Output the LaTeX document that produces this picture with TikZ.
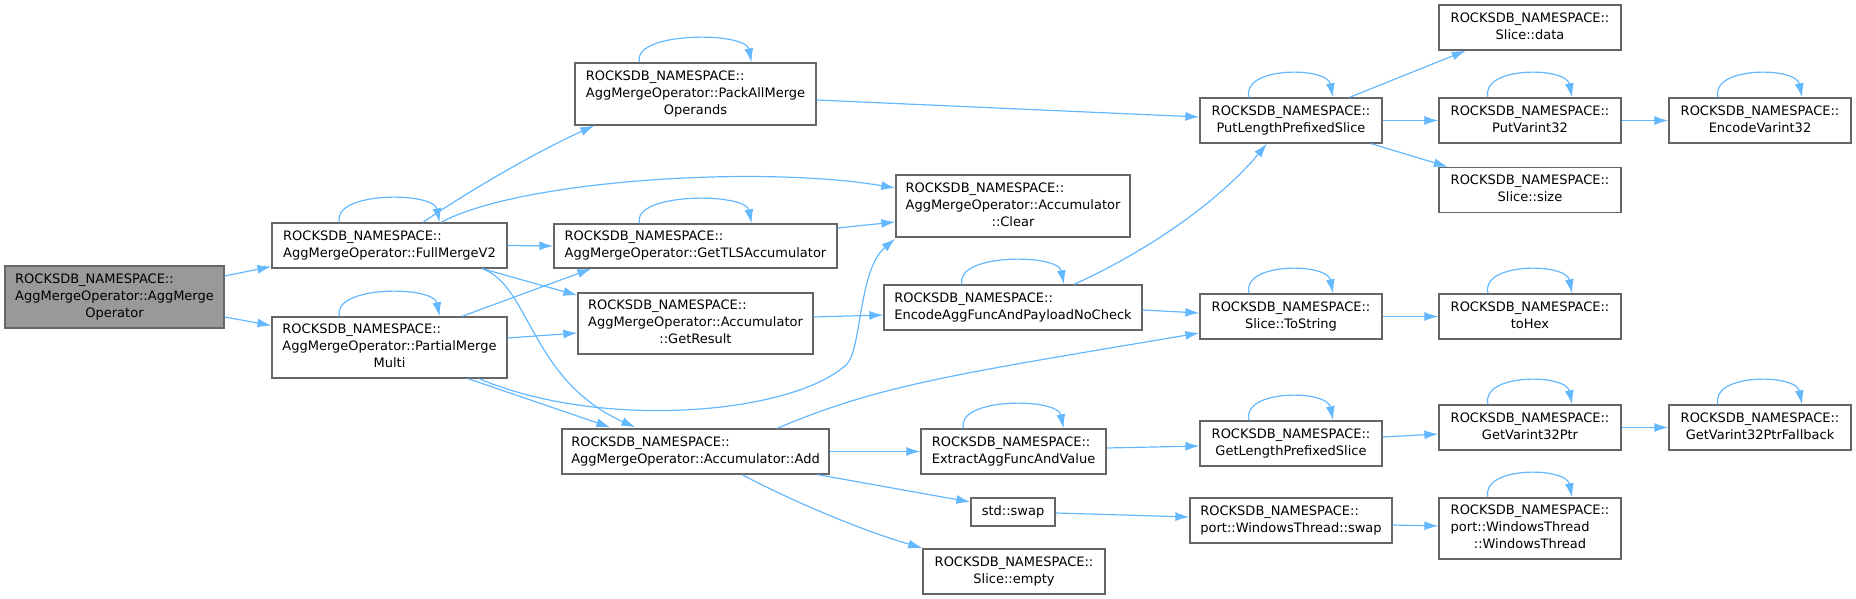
\documentclass[tikz,border=0pt]{standalone}
\usepackage{fontspec}
\setmainfont{DejaVu Sans}
\usetikzlibrary{arrows.meta, calc}
\definecolor{callblue}{HTML}{63B8FF}
\definecolor{boxgray}{HTML}{666666}
\definecolor{rootgray}{HTML}{999999}
\tikzset{
  fn/.style={draw=boxgray, fill=white, line width=1.3pt, inner sep=0pt,
    font=\fontsize{13}{17}\selectfont},
  root/.style={fn, fill=rootgray},
  box/.style 2 args={minimum width=#1pt, minimum height=#2pt},
  call/.style={draw=callblue, line width=1.2pt, -{Latex[length=14pt, width=9pt]}}
}
% all lines left, last line centred
\newcommand{\fnlabel}[2]{\begin{tabular}{@{}l@{}}#1\\\multicolumn{1}{@{}c@{}}{#2}\end{tabular}}

\begin{document}
\begin{tikzpicture}[x=1pt, y=-1pt]
    \useasboundingbox (0,0) rectangle (1856,599);

    % Caller
    \node[root, box={219}{62}] (root) at (114.5,297) {\fnlabel{ROCKSDB\_NAMESPACE::\\AggMergeOperator::AggMerge}{Operator}};

    % Merge entry points
    \node[fn, box={235}{45}] (full) at (389.5,245.5) {\fnlabel{ROCKSDB\_NAMESPACE::}{AggMergeOperator::FullMergeV2}};
    \node[fn, box={235}{61}] (partial) at (389.5,347.5) {\fnlabel{ROCKSDB\_NAMESPACE::\\AggMergeOperator::PartialMerge}{Multi}};

    % Operator helpers
    \node[fn, box={241}{62}] (packall) at (695.5,94) {\fnlabel{ROCKSDB\_NAMESPACE::\\AggMergeOperator::PackAllMerge}{Operands}};
    \node[fn, box={283}{44}] (gettls) at (695.5,246) {\fnlabel{ROCKSDB\_NAMESPACE::}{AggMergeOperator::GetTLSAccumulator}};
    \node[fn, box={235}{61}] (getresult) at (695.5,323.5) {\fnlabel{ROCKSDB\_NAMESPACE::\\AggMergeOperator::Accumulator}{::GetResult}};
    \node[fn, box={267}{45}] (add) at (695.5,451.5) {\fnlabel{ROCKSDB\_NAMESPACE::}{AggMergeOperator::Accumulator::Add}};

    % Third column
    \node[fn, box={234}{62}] (clear) at (1013,206) {\fnlabel{ROCKSDB\_NAMESPACE::\\AggMergeOperator::Accumulator}{::Clear}};
    \node[fn, box={258}{45}] (encode) at (1013,307.5) {\fnlabel{ROCKSDB\_NAMESPACE::}{EncodeAggFuncAndPayloadNoCheck}};
    \node[fn, box={185}{45}] (extract) at (1013.5,451.5) {\fnlabel{ROCKSDB\_NAMESPACE::}{ExtractAggFuncAndValue}};
    \node[fn, box={84}{28}] (swap) at (1013,512) {std::swap};
    \node[fn, box={182}{45}] (empty) at (1014,571.5) {\fnlabel{ROCKSDB\_NAMESPACE::}{Slice::empty}};

    % Coding and slices
    \node[fn, box={182}{45}] (putlen) at (1291,120.5) {\fnlabel{ROCKSDB\_NAMESPACE::}{PutLengthPrefixedSlice}};
    \node[fn, box={182}{45}] (tostring) at (1291,316.5) {\fnlabel{ROCKSDB\_NAMESPACE::}{Slice::ToString}};
    \node[fn, box={182}{45}] (getlen) at (1291,443.5) {\fnlabel{ROCKSDB\_NAMESPACE::}{GetLengthPrefixedSlice}};
    \node[fn, box={202}{45}] (wtswap) at (1291,520.5) {\fnlabel{ROCKSDB\_NAMESPACE::}{port::WindowsThread::swap}};

    \node[fn, box={182}{45}] (data) at (1530,27.5) {\fnlabel{ROCKSDB\_NAMESPACE::}{Slice::data}};
    \node[fn, box={182}{45}] (putvar) at (1530,120.5) {\fnlabel{ROCKSDB\_NAMESPACE::}{PutVarint32}};
    \node[fn, box={182}{45}] (size) at (1530,190) {\fnlabel{ROCKSDB\_NAMESPACE::}{Slice::size}};
    \node[fn, box={182}{45}] (tohex) at (1530,316.5) {\fnlabel{ROCKSDB\_NAMESPACE::}{toHex}};
    \node[fn, box={182}{45}] (getvar) at (1530,427.5) {\fnlabel{ROCKSDB\_NAMESPACE::}{GetVarint32Ptr}};
    \node[fn, box={182}{61}] (wtwt) at (1530,528.5) {\fnlabel{ROCKSDB\_NAMESPACE::\\port::WindowsThread}{::WindowsThread}};

    \node[fn, box={182}{45}] (encvar) at (1760,120.5) {\fnlabel{ROCKSDB\_NAMESPACE::}{EncodeVarint32}};
    \node[fn, box={182}{45}] (fallback) at (1760,427.5) {\fnlabel{ROCKSDB\_NAMESPACE::}{GetVarint32PtrFallback}};

    % Recursive calls
    \foreach \n/\d in {full/50, partial/50, packall/56, gettls/56, encode/51, extract/50,
                       putlen/42, putvar/42, encvar/42, tostring/42, tohex/42,
                       getlen/42, getvar/42, fallback/42, wtwt/42} {
        \draw[call] ([xshift=-\d pt]\n.north) .. controls +(-8,-31) and +(-6,-31) .. ([xshift=\d pt]\n.north);
    }

    % Calls from the caller
    \draw[call] ($(root.east)+(0,-21)$) -- ($(full.west)+(0,21)$);
    \draw[call] ($(root.east)+(0,20)$) -- ($(partial.west)+(0,-22)$);

    % Calls from FullMergeV2
    \draw[call] ($(full.north)+(33.5,0)$) .. controls (470,190) and (540,150) .. ($(packall.south west)+(20,0)$);
    \draw[call] ($(full.north)+(51.5,0)$) .. controls (520,180) and (760,165) .. ($(clear.west)+(0,-18)$);
    \draw[call] (full.east) -- (gettls.west);
    \draw[call] ($(full.south)+(92.5,0)$) -- ($(getresult.north west)+(0,3)$);
    \draw[call] ($(full.south)+(92.5,0)$) .. controls (530,285) and (530,380) .. ($(add.north west)+(74,-1)$);

    % Calls from PartialMergeMulti
    \draw[call] ($(partial.north)+(72.5,0)$) -- ($(gettls.south west)+(38,0)$);
    \draw[call] ($(partial.east)+(0,-9.5)$) -- ($(getresult.west)+(0,9.5)$);
    \draw[call] ($(partial.south)+(89.5,0)$) .. controls (600,430) and (790,415) .. (846,365)
        .. controls (862,351) and (858,270) .. ($(clear.south west)+(0,1)$);
    \draw[call] ($(partial.south)+(78.5,0)$) -- ($(add.north west)+(49,-1)$);

    % Calls from the helpers
    \draw[call] ($(gettls.east)+(0,-18)$) -- ($(clear.west)+(0,16)$);
    \draw[call] ($(packall.east)+(0,6)$) -- ($(putlen.west)+(0,-3.5)$);
    \draw[call] ($(getresult.east)+(0,-6.5)$) -- ($(encode.west)+(0,7.5)$);
    \draw[call] ($(encode.north)+(61,0)$) .. controls (1150,250) and (1220,200) .. ($(putlen.south)+(-24,0)$);
    \draw[call] ($(encode.east)+(0,2.5)$) -- ($(tostring.west)+(0,-3.5)$);
    \draw[call] ($(add.north)+(81.5,0)$) .. controls (880,385) and (950,375) .. ($(tostring.west)+(0,16.5)$);
    \draw[call] (add.east) -- (extract.west);
    \draw[call] ($(add.south east)+(-12,0)$) -- ($(swap.west)+(0,-10)$);
    \draw[call] ($(add.south)+(46.5,0)$) .. controls (790,500) and (860,530) .. ($(empty.west)+(0,-23.5)$);
    \draw[call] ($(extract.east)+(0,-3.5)$) -- ($(getlen.west)+(0,2.5)$);
    \draw[call] ($(swap.east)+(0,1)$) -- ($(wtswap.west)+(0,-3.5)$);

    % Right-hand calls
    \draw[call] ($(putlen.north)+(58.5,0)$) -- ($(data.south west)+(27.5,0)$);
    \draw[call] (putlen.east) -- (putvar.west);
    \draw[call] ($(putlen.south east)+(-11.5,0)$) -- ($(size.north west)+(9.5,0)$);
    \draw[call] (putvar.east) -- (encvar.west);
    \draw[call] (tostring.east) -- (tohex.west);
    \draw[call] ($(getlen.east)+(0,-6.5)$) -- ($(getvar.west)+(0,6.5)$);
    \draw[call] (getvar.east) -- (fallback.west);
    \draw[call] ($(wtswap.east)+(0,4.5)$) -- ($(wtwt.west)+(0,-2.5)$);
\end{tikzpicture}
\end{document}
